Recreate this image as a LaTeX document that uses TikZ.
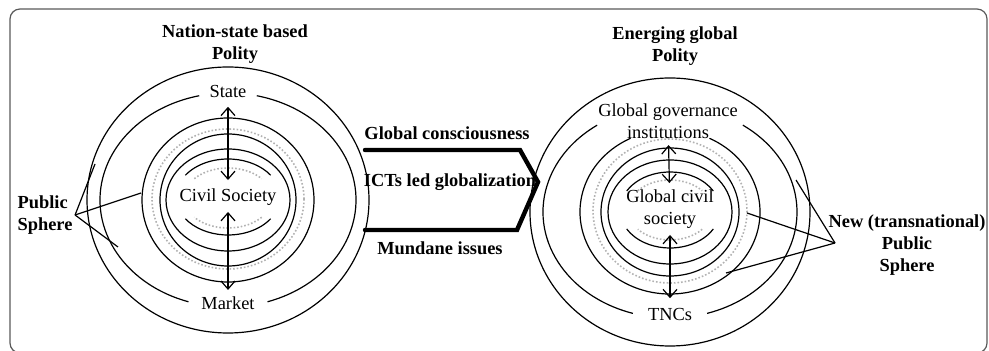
\documentclass[tikz,border=0pt]{standalone}
\usepackage{fontspec}
\setmainfont{Liberation Serif}
\usetikzlibrary{arrows.meta}

\begin{document}
\begin{tikzpicture}[x=0.5pt, y=-0.5pt, line width=0.6pt,
	>={Straight Barb[length=4pt, width=7pt]},
	lbl/.style={font=\fontsize{9.2}{11}\selectfont, inner sep=1pt},
	head/.style={font=\fontsize{9.2}{11.2}\selectfont\bfseries, inner sep=1pt, align=center},
	faint/.style={draw=gray!60, densely dotted, line width=0.8pt},
	link/.style={<->, shorten <=2pt, shorten >=2pt}]
	\useasboundingbox (0,0) rectangle (989,351);
	\draw[rounded corners=5pt, gray!70!black] (10,9) rectangle (987,353);

	% nation-state polity
	\draw (228,200) ellipse [x radius=141, y radius=133];
	\draw (228,200) ++(-77:128 and 107) arc [start angle=-77, end angle=72, x radius=128, y radius=107];
	\draw (228,200) ++(108:128 and 107) arc [start angle=108, end angle=257, x radius=128, y radius=107];
	\draw (228,200) ellipse [x radius=86, y radius=82];
	\draw[faint] (228,199) ellipse [x radius=76, y radius=70];
	\draw (228,200) ellipse [x radius=68, y radius=66];
	\draw (228,200) ellipse [x radius=62, y radius=51];
	\draw (228,197) ++(-145:52 and 38) arc [start angle=-145, end angle=-35, x radius=52, y radius=38];
	\draw (228,197) ++(35:52 and 38) arc [start angle=35, end angle=145, x radius=52, y radius=38];
	\draw[faint] (228,198) ++(-140:44 and 30) arc [start angle=-140, end angle=-40, x radius=44, y radius=30];
	\draw[faint] (228,198) ++(40:44 and 30) arc [start angle=40, end angle=140, x radius=44, y radius=30];

	\node[head] (title-l) at (235,44) {Nation-state based\\Polity};
	\node[lbl] (state) at (228,92) {State};
	\node[lbl] (civil) at (228,197) {Civil Society};
	\node[lbl] (market) at (228,303) {Market};
	\draw[link, shorten <=3pt, shorten >=3pt] (state) -- (civil);
	\draw[link] (civil) -- (market);

	\node[head, align=left, anchor=west] (public) at (15,215) {Public\\Sphere};
	\coordinate (ps-a) at (95,164);
	\coordinate (ps-b) at (141,193);
	\coordinate (ps-c) at (118,247);
	\draw (public.east) -- (ps-a);
	\draw (public.east) -- (ps-b);
	\draw (public.east) -- (ps-c);

	% globalization chevron
	\draw[line width=2.2pt, line cap=round, line join=miter] (365,150) -- (520,150) -- (538,182) -- (517,230) -- (365,230);
	\node[head] (gc) at (447,133) {Global consciousness};
	\node[head] (ict) at (450,182) {ICTs led globalization};
	\node[head] (mi) at (440,248) {Mundane issues};

	% emerging global polity
	\draw (670,212) ellipse [x radius=140, y radius=134];
	\draw (670,212) ++(-55:127 and 106) arc [start angle=-55, end angle=73, x radius=127, y radius=106];
	\draw (670,212) ++(107:127 and 106) arc [start angle=107, end angle=235, x radius=127, y radius=106];
	\draw (670,212) ++(-64:90 and 82) arc [start angle=-64, end angle=244, x radius=90, y radius=82];
	\draw[faint] (670,211) ellipse [x radius=77, y radius=72];
	\draw (670,212) ellipse [x radius=69, y radius=64];
	\draw (670,212) ellipse [x radius=62, y radius=52];
	\draw (670,210) ++(-150:50 and 38) arc [start angle=-150, end angle=-30, x radius=50, y radius=38];
	\draw (670,210) ++(30:50 and 38) arc [start angle=30, end angle=150, x radius=50, y radius=38];
	\draw[faint] (670,210) ++(-140:42 and 30) arc [start angle=-140, end angle=-40, x radius=42, y radius=30];
	\draw[faint] (670,210) ++(40:42 and 30) arc [start angle=40, end angle=140, x radius=42, y radius=30];

	\node[head] (title-r) at (675,46) {Energing global\\Polity};
	\node[lbl, align=center] (ggi) at (668,121) {Global governance\\institutions};
	\node[lbl, align=center] (gcs) at (670,209) {Global civil\\society};
	\node[lbl] (tncs) at (670,315) {TNCs};
	\draw[link] (ggi) -- (gcs);
	\draw[link, shorten >=4pt] (gcs) -- (tncs);

	\node[head] (newps) at (907,245) {New (transnational)\\Public\\Sphere};
	\coordinate (np) at (835,243);
	\coordinate (np-a) at (796,180);
	\coordinate (np-b) at (747,213);
	\coordinate (np-c) at (726,273);
	\draw (np) -- (np-a);
	\draw (np) -- (np-b);
	\draw (np) -- (np-c);
\end{tikzpicture}
\end{document}
